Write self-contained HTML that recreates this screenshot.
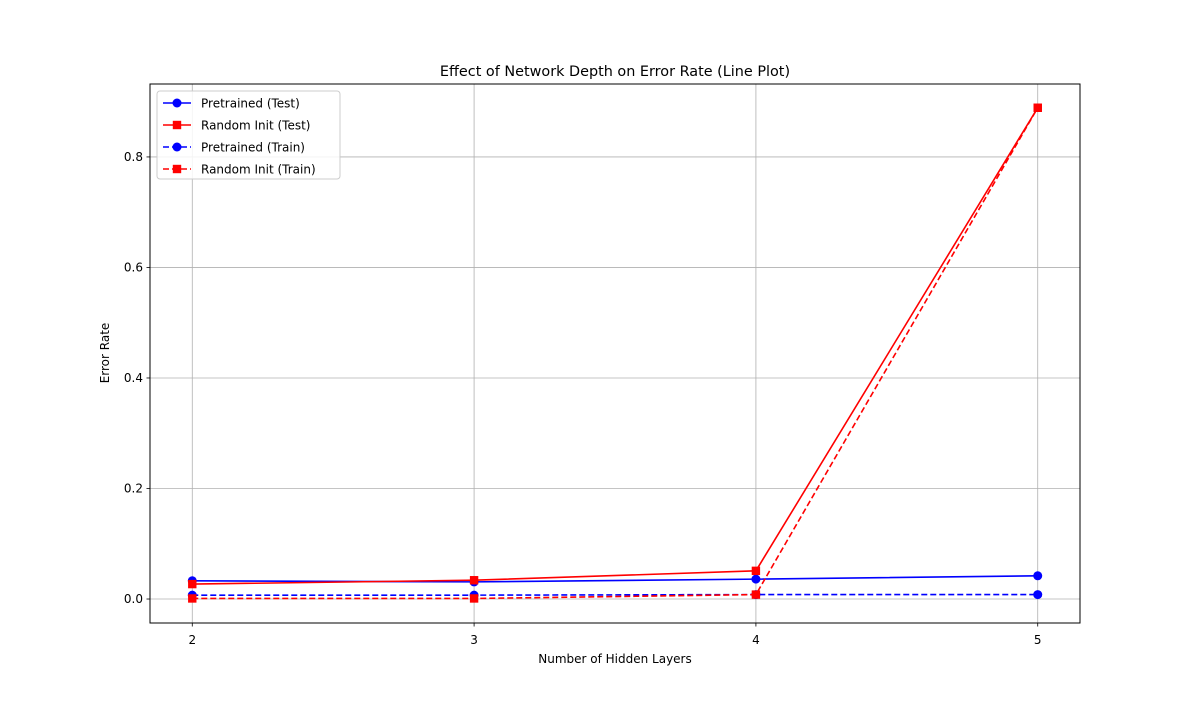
<!DOCTYPE html>
<html><head><meta charset="utf-8"><style>
body{margin:0;background:#fff;}
text{font-family:"DejaVu Sans","Liberation Sans",sans-serif;}
</style></head><body>
<svg id="chart" width="1200" height="700" xmlns="http://www.w3.org/2000/svg">
<rect width="1200" height="700" fill="#fff"/>
<g id="grid"></g>
<g id="series"></g>
<rect x="150" y="84" width="930" height="539" fill="none" stroke="#000" stroke-width="1"/>
<g id="ticks"></g>
<text x="615" y="76" text-anchor="middle" font-size="14.4">Effect of Network Depth on Error Rate (Line Plot)</text>
<text x="615" y="663" text-anchor="middle" font-size="12">Number of Hidden Layers</text>
<text x="109" y="353" text-anchor="middle" font-size="12" transform="rotate(-90 109 353)">Error Rate</text>
<g id="legend"></g>
</svg>
<script>
const layers=[2,3,4,5];
const yTicks=[0.0,0.2,0.4,0.6,0.8];
const pretrainedTest=[0.033,0.031,0.036,0.042];
const randomTest=[0.027,0.034,0.051,0.889];
const pretrainedTrain=[0.007,0.007,0.008,0.008];
const randomTrain=[0.001,0.001,0.008,0.889];
const seriesNames=["Pretrained (Test)","Random Init (Test)","Pretrained (Train)","Random Init (Train)"];
const NS="http://www.w3.org/2000/svg";
const L=150,R=1080,T=84,B=623;
const xmin=1.85,xmax=5.15,ymin=-0.0434,ymax=0.932;
const xs=v=>L+(v-xmin)/(xmax-xmin)*(R-L);
const ys=v=>B-(v-ymin)/(ymax-ymin)*(B-T);
function mk(tag,attrs,parent){const e=document.createElementNS(NS,tag);for(const k in attrs)e.setAttribute(k,attrs[k]);parent.appendChild(e);return e;}
const grid=document.getElementById('grid'),ticks=document.getElementById('ticks'),ser=document.getElementById('series'),leg=document.getElementById('legend');
layers.forEach(v=>{const x=xs(v);
const g=mk('line',{x1:x,x2:x,y1:T,y2:B,stroke:'#b0b0b0','stroke-width':0.8},grid);

mk('line',{x1:x,x2:x,y1:B,y2:B+3.5,stroke:'#000','stroke-width':0.8},ticks);
const t=mk('text',{x:x,y:B+21,'text-anchor':'middle','font-size':12},ticks);t.textContent=v;
});
yTicks.forEach(v=>{const y=ys(v);
const g=mk('line',{x1:L,x2:R,y1:y,y2:y,stroke:'#b0b0b0','stroke-width':0.8},grid);

mk('line',{x1:L-3.5,x2:L,y1:y,y2:y,stroke:'#000','stroke-width':0.8},ticks);
const t=mk('text',{x:L-7,y:y+4,'text-anchor':'end','font-size':12},ticks);t.textContent=v.toFixed(1);
});
const defs=[[pretrainedTest,'blue','circle',''],[randomTest,'red','square',''],[pretrainedTrain,'blue','circle','6,3'],[randomTrain,'red','square','6,3']];
function marker(shape,x,y,c,p){let m;if(shape==='circle')m=mk('circle',{cx:x,cy:y,r:4.5,fill:c},p);else m=mk('rect',{x:x-4.2,y:y-4.2,width:8.4,height:8.4,fill:c},p);return m;}
defs.forEach((d,i)=>{const g=mk('g',{},ser);

const pts=layers.map((v,j)=>xs(v)+','+ys(d[0][j])).join(' ');
const pl=mk('polyline',{points:pts,fill:'none',stroke:d[1],'stroke-width':1.6,'stroke-dasharray':d[3]},g);

layers.forEach((v,j)=>{const m=marker(d[2],xs(v),ys(d[0][j]),d[1],g);
});});
const box=mk('rect',{x:157,y:91,width:183,height:88,rx:3,fill:'#fff','fill-opacity':0.85,stroke:'#ccc'},leg);

defs.forEach((d,i)=>{const y=103+i*22;const g=mk('g',{},leg);

mk('line',{x1:163,x2:191,y1:y,y2:y,stroke:d[1],'stroke-width':1.6,'stroke-dasharray':d[3]},g);
marker(d[2],177,y,d[1],g);
const t=mk('text',{x:201,y:y+4.5,'font-size':12},g);t.textContent=seriesNames[i];});
</script>
</body></html>
